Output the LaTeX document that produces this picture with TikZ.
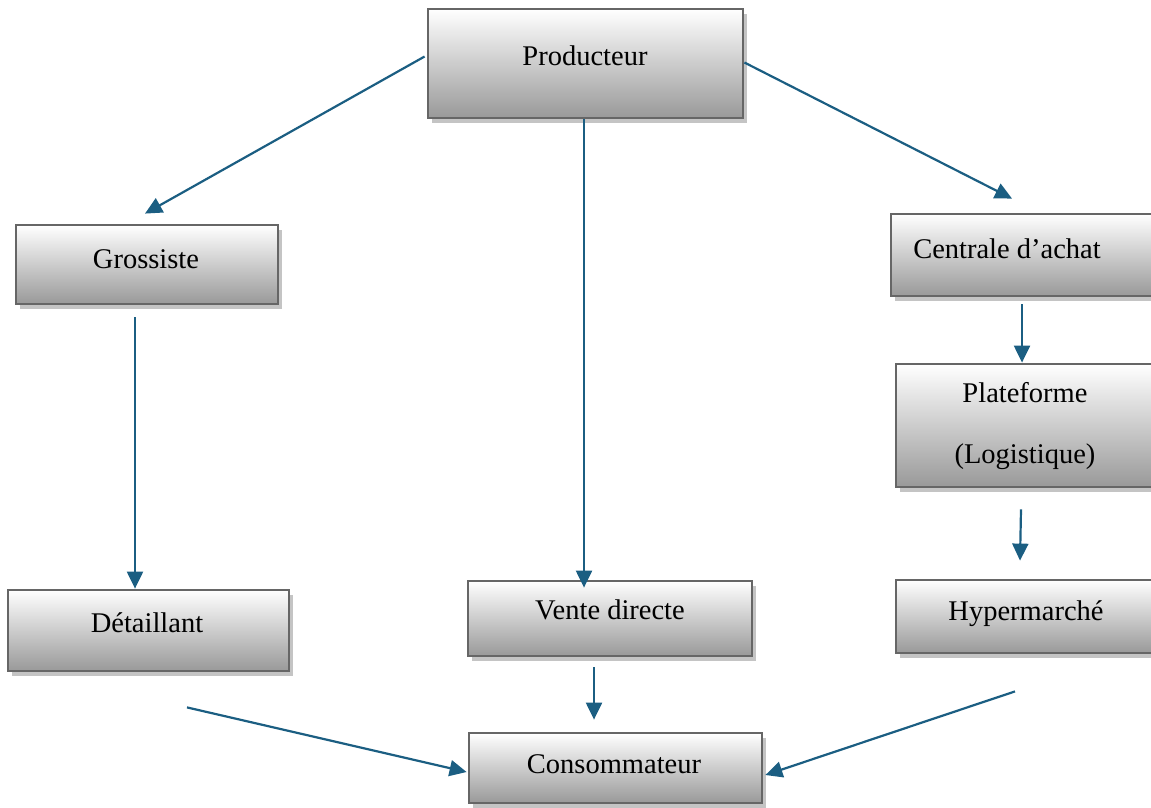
\documentclass[tikz,border=0pt]{standalone}
\usepackage{fontspec}
\setmainfont{Liberation Serif}
\usetikzlibrary{arrows.meta,shadows}
\definecolor{flow}{HTML}{1B5E82}
\definecolor{boxline}{HTML}{666666}
\definecolor{boxshade}{HTML}{999999}
\definecolor{shadowgray}{HTML}{C4C4C4}
\tikzset{
  chainbox/.style={rectangle, draw=boxline, line width=2.8pt, inner sep=0pt,
    top color=white, bottom color=boxshade,
    drop shadow={shadow xshift=4pt, shadow yshift=-5pt, fill=shadowgray, opacity=1}},
  boxtext/.style={anchor=base, inner sep=0pt, font=\fontsize{28.5}{34}\selectfont},
  flowarrow/.style={draw=flow, line width=2.2pt,
    -{Triangle[length=17pt,width=16pt]}},
}
\begin{document}
\begin{tikzpicture}[x=1pt,y=-1pt]
\useasboundingbox (0,0) rectangle (1151,807);

% boxes of the distribution channels
\node[chainbox, minimum width=315pt, minimum height=109pt] (prod)  at (585.5,63.5) {};
\node[chainbox, minimum width=262pt, minimum height=79pt]  (gros)  at (147,264.5) {};
\node[chainbox, minimum width=264pt, minimum height=82pt]  (cent)  at (1023,255) {};
\node[chainbox, minimum width=259pt, minimum height=123pt] (plat)  at (1025.5,425.5) {};
\node[chainbox, minimum width=259pt, minimum height=73pt]  (hyper) at (1025.5,616.5) {};
\node[chainbox, minimum width=281pt, minimum height=81pt]  (det)   at (148.5,630.5) {};
\node[chainbox, minimum width=284pt, minimum height=75pt]  (vente) at (610,618.5) {};
\node[chainbox, minimum width=293pt, minimum height=70pt]  (cons)  at (615.5,768) {};

% labels
\node[boxtext] (tprod)  at (585,65)   {Producteur};
\node[boxtext] (tgros)  at (146,268)  {Grossiste};
\node[boxtext] (tcent)  at (1007,258) {Centrale d’achat};
\node[boxtext] (tplat1) at (1025,402) {Plateforme};
\node[boxtext] (tplat2) at (1025,463) {(Logistique)};
\node[boxtext] (thyper) at (1026,620) {Hypermarché};
\node[boxtext] (tdet)   at (147,632)  {Détaillant};
\node[boxtext] (tvente) at (610,619)  {Vente directe};
\node[boxtext] (tcons)  at (614,773)  {Consommateur};

% flows
\draw[flowarrow] ([shift={(-2,-7)}]prod.west)   -- ([shift={(-2,-10)}]gros.north);
\draw[flowarrow] ([shift={(-1.5,0)}]prod.south) -- ([shift={(-26,8)}]vente.north);
\draw[flowarrow] ([shift={(0,-1)}]prod.east)    -- ([shift={(-11,-14)}]cent.north);
\draw[flowarrow] ([shift={(-12,12)}]gros.south) -- ([shift={(-13.5,0)}]det.north);
\draw[flowarrow] ([shift={(-1,7)}]cent.south)   -- ([shift={(-3.5,0)}]plat.north);
\draw[flowarrow] ([shift={(-4.5,21)}]plat.south) -- ([shift={(-5.5,-18)}]hyper.north);
\draw[flowarrow] ([shift={(-16,10)}]vente.south) -- ([shift={(-21.5,-12)}]cons.north);
\draw[flowarrow] ([shift={(38.5,35)}]det.south)  -- ([shift={(-1,4)}]cons.west);
\draw[flowarrow] ([shift={(-10.5,37)}]hyper.south) -- ([shift={(2,7)}]cons.east);
\end{tikzpicture}
\end{document}
